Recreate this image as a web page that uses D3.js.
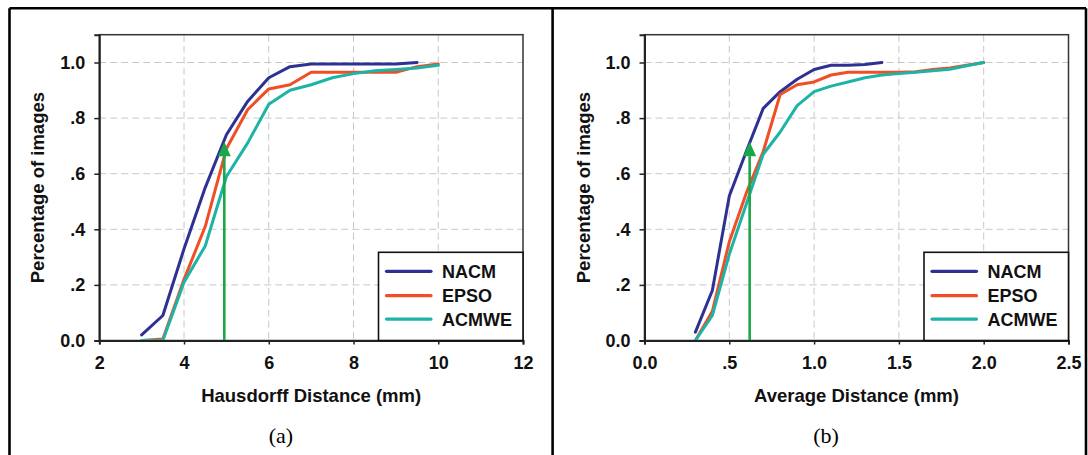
<!DOCTYPE html>
<html><head><meta charset="utf-8">
<script src="https://cdn.jsdelivr.net/npm/d3@7"></script>
<style>
body{margin:0;background:#fff;}
svg text{font-family:"Liberation Sans",Arial,sans-serif;}
</style>
</head><body>
<svg id="chart" width="1088" height="455"></svg>
<script>
// ---------- data ----------
const seriesNames = ["NACM", "EPSO", "ACMWE"];

// (a) Hausdorff distance (mm)
const hdX      = [3, 3.5, 4, 4.5, 5, 5.5, 6, 6.5, 7, 7.5, 8, 8.5, 9, 9.5, 10];
const hdNACM   = [0.02, 0.09, 0.33, 0.55, 0.74, 0.86, 0.945, 0.985, 0.995, 0.995, 0.995, 0.995, 0.995, 1.0];
const hdEPSO   = [0, 0.005, 0.22, 0.41, 0.69, 0.83, 0.905, 0.92, 0.965, 0.965, 0.965, 0.965, 0.965, 0.985, 0.995];
const hdACMWE  = [0, 0, 0.21, 0.34, 0.59, 0.71, 0.85, 0.90, 0.92, 0.945, 0.96, 0.97, 0.975, 0.98, 0.99];

// (b) Average distance (mm)
const adX      = [0.3, 0.4, 0.5, 0.6, 0.7, 0.8, 0.9, 1.0, 1.1, 1.2, 1.3, 1.4, 1.5, 1.6, 1.7, 1.8, 1.9, 2.0];
const adNACM   = [0.03, 0.18, 0.52, 0.68, 0.835, 0.895, 0.94, 0.975, 0.99, 0.99, 0.993, 1.0];
const adEPSO   = [0, 0.105, 0.355, 0.53, 0.68, 0.885, 0.92, 0.93, 0.955, 0.965, 0.965, 0.965, 0.965, 0.967, 0.975, 0.98, 0.99, 1.0];
const adACMWE  = [0, 0.09, 0.31, 0.49, 0.67, 0.75, 0.845, 0.895, 0.915, 0.93, 0.945, 0.955, 0.96, 0.965, 0.97, 0.976, 0.988, 1.0];

// axes
const yTicks       = [0, 0.2, 0.4, 0.6, 0.8, 1.0];
const yTickLabels  = ["0.0", ".2", ".4", ".6", ".8", "1.0"];
const hdTicks      = [2, 4, 6, 8, 10, 12];
const hdTickLabels = ["2", "4", "6", "8", "10", "12"];
const adTicks      = [0, 0.5, 1.0, 1.5, 2.0, 2.5];
const adTickLabels = ["0.0", ".5", "1.0", "1.5", "2.0", "2.5"];

// green arrows (x position, arrow tip value)
const arrowX   = [4.95, 0.62];
const arrowTip = 0.715;

const yTitle   = "Percentage of images";
const xTitles  = ["Hausdorff Distance (mm)", "Average Distance (mm)"];
const captions = ["(a)", "(b)"];

// ---------- styling ----------
const colors = {NACM: "#2e3192", EPSO: "#f04e25", ACMWE: "#1db3a6"};
const arrowColor = "#1aa64a";

const svg = d3.select("#chart");

// outer frame
const frame = svg.append("g").attr("stroke", "#000").attr("stroke-width", 2.6);
frame.append("line").attr("x1", 9.5).attr("x2", 1086).attr("y1", 8.3).attr("y2", 8.3);
frame.append("line").attr("x1", 9.5).attr("x2", 9.5).attr("y1", 8.3).attr("y2", 460);
frame.append("line").attr("x1", 552.6).attr("x2", 552.6).attr("y1", 8.3).attr("y2", 460);
frame.append("line").attr("x1", 1086).attr("x2", 1086).attr("y1", 8.3).attr("y2", 460);

const panels = [
  {left: 99.3, right: 523, xDomain: [2, 12], ticks: hdTicks, tickLabels: hdTickLabels,
   xs: hdX, series: [hdNACM, hdEPSO, hdACMWE], arrow: arrowX[0], title: xTitles[0], caption: captions[0], capX: 281},
  {left: 644.5, right: 1068.5, xDomain: [0, 2.5], ticks: adTicks, tickLabels: adTickLabels,
   xs: adX, series: [adNACM, adEPSO, adACMWE], arrow: arrowX[1], title: xTitles[1], caption: captions[1], capX: 826}
];
const plotTop = 34.7, plotBottom = 340.5;

panels.forEach(p => {
  const x = d3.scaleLinear().domain(p.xDomain).range([p.left, p.right]);
  const y = d3.scaleLinear().domain([0, 1.1]).range([plotBottom, plotTop]);
  const g = svg.append("g");

  // grid
  const grid = g.append("g").attr("stroke", "#c8c8c8").attr("stroke-width", 1).attr("stroke-dasharray", "7,4");
  yTicks.slice(1).forEach(v => grid.append("line")
    .attr("x1", p.left).attr("x2", p.right).attr("y1", y(v)).attr("y2", y(v)));
  p.ticks.slice(1, -1).forEach(v => grid.append("line")
    .attr("x1", x(v)).attr("x2", x(v)).attr("y1", plotTop).attr("y2", plotBottom));

  // plot frame
  g.append("rect").attr("x", p.left).attr("y", plotTop)
    .attr("width", p.right - p.left).attr("height", plotBottom - plotTop)
    .attr("fill", "none").attr("stroke", "#333").attr("stroke-width", 1.5);

  // series lines
  const line = d3.line().x((d, i) => x(p.xs[i])).y(d => y(d));
  p.series.forEach((vals, k) => {
    g.append("path").datum(vals).attr("d", line)
      .attr("fill", "none").attr("stroke", colors[seriesNames[k]])
      .attr("stroke-width", 3).attr("stroke-linejoin", "round").attr("stroke-linecap", "round");
  });

  // arrow
  const ax = x(p.arrow);
  const headBase = arrowTip - 0.052;
  g.append("line").attr("x1", ax).attr("x2", ax).attr("y1", y(0) + 1).attr("y2", y(headBase))
    .attr("stroke", arrowColor).attr("stroke-width", 2.6);
  g.append("path")
    .attr("d", `M${ax - 6.5},${y(headBase)} L${ax + 6.5},${y(headBase)} L${ax},${y(arrowTip)} Z`)
    .attr("fill", arrowColor);

  // axes
  const yAxis = g.append("g").attr("transform", `translate(${p.left},0)`)
    .call(d3.axisLeft(y).tickValues(yTicks).tickFormat((d, i) => yTickLabels[i]).tickSize(5).tickPadding(9));
  const xAxis = g.append("g").attr("transform", `translate(0,${plotBottom})`)
    .call(d3.axisBottom(x).tickValues(p.ticks).tickFormat((d, i) => p.tickLabels[i]).tickSize(4).tickPadding(12));
  [yAxis, xAxis].forEach(a => {
    a.select(".domain").attr("stroke", "#222").attr("stroke-width", 2);
    a.selectAll(".tick line").attr("stroke", "#222").attr("stroke-width", 1.5);
    a.selectAll("text").attr("font-family", "'Liberation Sans', Arial, sans-serif")
      .attr("font-size", 18).attr("font-weight", "bold").attr("fill", "#111");
  });

  // legend
  const lx = p.right - 144.5, ly = 252.3;
  const lg = g.append("g");
  lg.append("rect").attr("x", lx).attr("y", ly).attr("width", p.right - lx).attr("height", plotBottom - ly)
    .attr("fill", "#fff").attr("stroke", "#111").attr("stroke-width", 1.6);
  const rowY = [19, 43.4, 66.8];
  seriesNames.forEach((n, k) => {
    lg.append("line").attr("x1", lx + 8).attr("x2", lx + 52.5)
      .attr("y1", ly + rowY[k]).attr("y2", ly + rowY[k])
      .attr("stroke", colors[n]).attr("stroke-width", 3.2).attr("stroke-linecap", "round");
    lg.append("text").attr("x", lx + 63.5).attr("y", ly + rowY[k]).attr("dy", "0.36em")
      .attr("font-size", 18).attr("font-weight", "bold").attr("fill", "#111").text(n);
  });

  // titles
  g.append("text").attr("x", (p.left + p.right) / 2).attr("y", 402)
    .attr("text-anchor", "middle").attr("font-size", 18.5).attr("font-weight", "bold").attr("fill", "#111")
    .text(p.title);
  g.append("text").attr("transform", `translate(${p.left - 55},${(plotTop + plotBottom) / 2}) rotate(-90)`)
    .attr("text-anchor", "middle").attr("font-size", 18.5).attr("font-weight", "bold").attr("fill", "#111")
    .text(yTitle);
  g.append("text").attr("x", p.capX).attr("y", 443).attr("text-anchor", "middle")
    .style("font-family", "'Liberation Serif', 'Times New Roman', serif").attr("font-size", 22).attr("fill", "#000")
    .text(p.caption);
});
</script>
</body></html>
